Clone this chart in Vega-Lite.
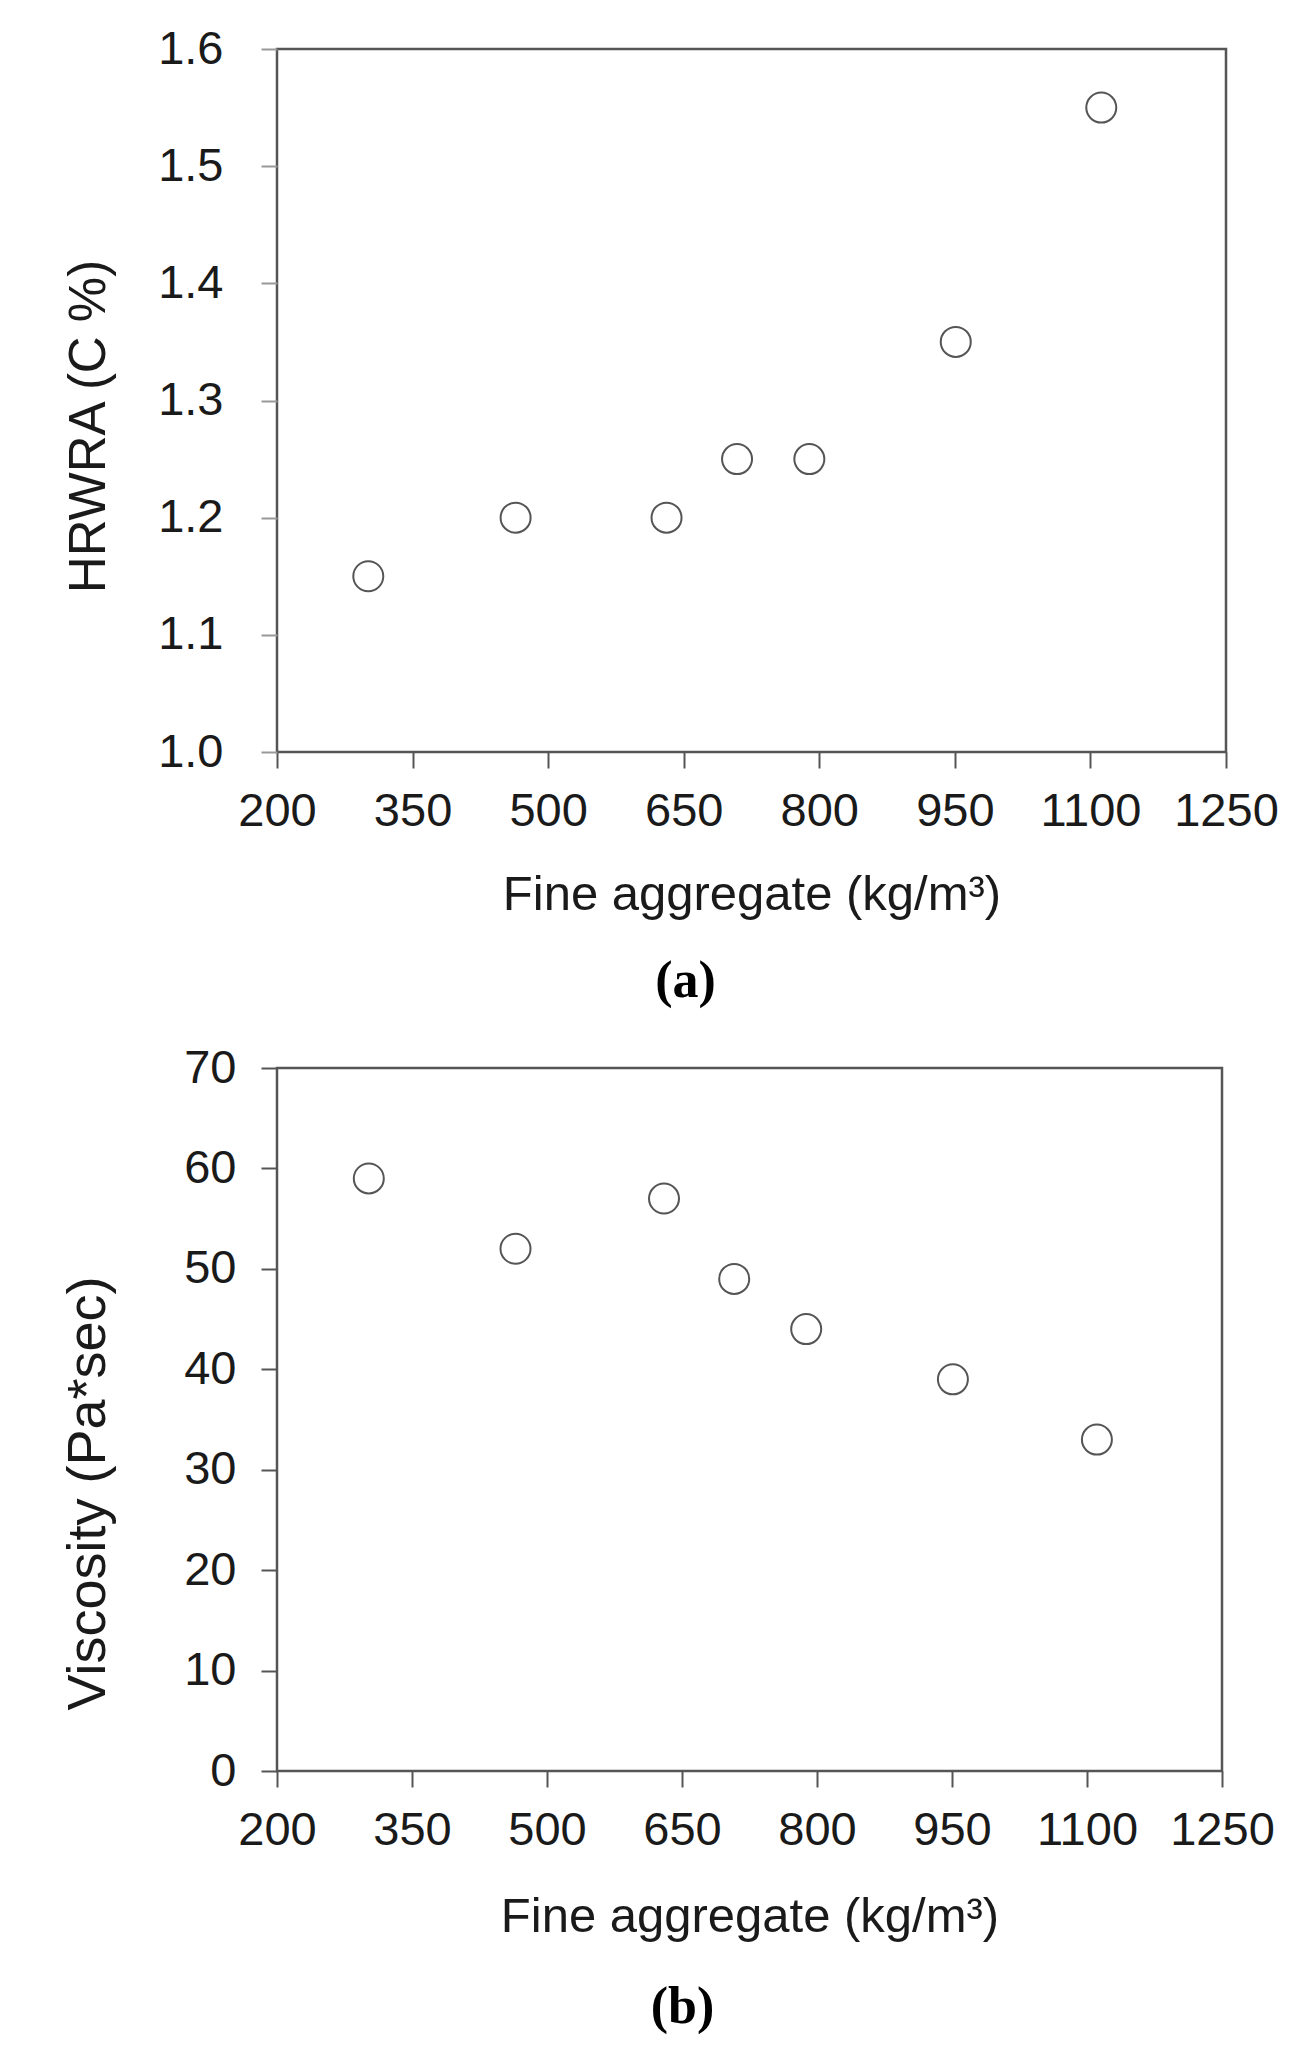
{
  "$schema": "https://vega.github.io/schema/vega-lite/v6.json",
  "background": "white",
  "padding": {"left": 59, "top": 23, "right": 20, "bottom": 20},
  "bounds": "flush",
  "spacing": 316,
  "config": {
    "view": {"stroke": "#555", "strokeWidth": 2.5},
    "axis": {"domain": false, "grid": false, "labelFont": "Liberation Sans", "labelFontSize": 47, "labelColor": "#1a1a1a", "labelOverlap": false, "labelFlush": false, "titleFont": "Liberation Sans", "titleFontSize": 49, "titleFontWeight": "normal", "titleColor": "#1a1a1a", "tickSize": 16, "tickWidth": 2, "tickColor": "#555"},
    "title": {"font": "Liberation Serif", "fontSize": 52, "fontWeight": "bold", "color": "black", "orient": "bottom", "anchor": "middle", "frame": "group"}
  },
  "vconcat": [
    {
      "width": 949,
      "height": 703,
      "title": {"text": "(a)", "offset": 37, "dx": -66},
      "data": {"values": [
        {"fine": 301, "hrwra": 1.15},
        {"fine": 464, "hrwra": 1.20},
        {"fine": 631, "hrwra": 1.20},
        {"fine": 709, "hrwra": 1.25},
        {"fine": 789, "hrwra": 1.25},
        {"fine": 951, "hrwra": 1.35},
        {"fine": 1112, "hrwra": 1.55}
      ]},
      "mark": {"type": "point", "shape": "circle", "filled": false, "stroke": "#555", "strokeWidth": 2, "size": 900, "opacity": 1},
      "encoding": {
        "x": {"field": "fine", "type": "quantitative", "scale": {"domain": [200, 1250], "nice": false, "zero": false},
          "axis": {"values": [200, 350, 500, 650, 800, 950, 1100, 1250], "format": "d", "title": "Fine aggregate (kg/m³)", "labelPadding": 20, "titleBaseline": "alphabetic", "titleY": 157}},
        "y": {"field": "hrwra", "type": "quantitative", "scale": {"domain": [1.0, 1.6], "nice": false, "zero": false},
          "axis": {"values": [1.0, 1.1, 1.2, 1.3, 1.4, 1.5, 1.6], "format": ".1f", "title": "HRWRA (C %)", "titleFontSize": 51, "labelPadding": 38, "tickColor": "#999", "titleX": -188, "titleY": 377, "titleBaseline": "middle"}}
      }
    },
    {
      "width": 945,
      "height": 703,
      "title": {"text": "(b)", "offset": 41, "dx": -67},
      "data": {"values": [
        {"fine": 302, "viscosity": 59},
        {"fine": 465, "viscosity": 52},
        {"fine": 630, "viscosity": 57},
        {"fine": 708, "viscosity": 49},
        {"fine": 788, "viscosity": 44},
        {"fine": 951, "viscosity": 39},
        {"fine": 1111, "viscosity": 33}
      ]},
      "mark": {"type": "point", "shape": "circle", "filled": false, "stroke": "#555", "strokeWidth": 2, "size": 900, "opacity": 1},
      "encoding": {
        "x": {"field": "fine", "type": "quantitative", "scale": {"domain": [200, 1250], "nice": false, "zero": false},
          "axis": {"values": [200, 350, 500, 650, 800, 950, 1100, 1250], "format": "d", "title": "Fine aggregate (kg/m³)", "labelPadding": 20, "titleBaseline": "alphabetic", "titleY": 160}},
        "y": {"field": "viscosity", "type": "quantitative", "scale": {"domain": [0, 70], "nice": false, "zero": false},
          "axis": {"values": [0, 10, 20, 30, 40, 50, 60, 70], "title": "Viscosity (Pa*sec)", "titleFontSize": 54, "labelPadding": 25, "titleX": -189, "titleY": 425, "titleBaseline": "middle"}}
      }
    }
  ]
}
